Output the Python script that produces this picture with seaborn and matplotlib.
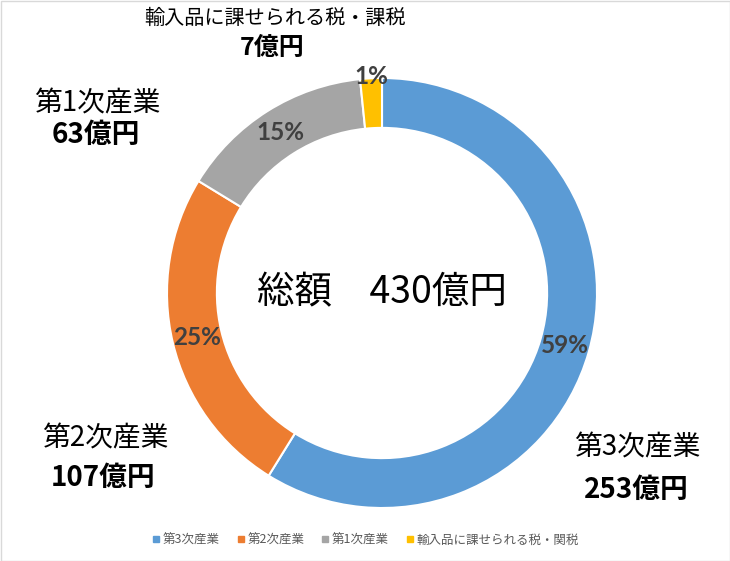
import numpy as np
import matplotlib
matplotlib.use("Agg")
import matplotlib.pyplot as plt
from matplotlib.lines import Line2D
from matplotlib.patches import Rectangle
import seaborn as sns

# ---- data ----
categories = ["第3次産業", "第2次産業", "第1次産業", "輸入品に課せられる税・関税"]
values = [253, 107, 63, 7]
pct_labels = ["59%", "25%", "15%", "1%"]
outer_names = ["第3次産業", "第2次産業", "第1次産業", "輸入品に課せられる税・課税"]
outer_amounts = ["253億円", "107億円", "63億円", "7億円"]
total_label = "総額　430億円"
colors = ["#5B9BD5", "#ED7D31", "#A5A5A5", "#FFC000"]

sns.set_theme(style="white")
plt.rcParams["font.family"] = ["Noto Sans CJK JP", "DejaVu Sans"]

W, H = 730, 561
fig = plt.figure(figsize=(W / 100, H / 100), dpi=100)
fig.patch.set_facecolor("white")

cx, cy, r = 382, 293, 215
ax = fig.add_axes([(cx - r) / W, (H - cy - r) / H, 2 * r / W, 2 * r / H])

pct_iter = iter(pct_labels)
wedges, texts, autotexts = ax.pie(
    values, colors=colors, startangle=90, counterclock=False, radius=1,
    autopct=lambda p: next(pct_iter), pctdistance=0.885,
    wedgeprops=dict(width=0.232, edgecolor="white", linewidth=1.5),
    textprops=dict(color="#404040", fontsize=17.5, fontweight="bold",
                   family=["Lato", "DejaVu Sans"]),
)
ax.set_xlim(-1, 1)
ax.set_ylim(-1, 1)
ax.set_aspect("equal")
ax.axis("off")

# smallest slice label sits on the outer edge
w = wedges[3]
mid = np.deg2rad((w.theta1 + w.theta2) / 2)
autotexts[3].set_position((1.01 * np.cos(mid), 1.01 * np.sin(mid)))

# centre text
ax.text(0, 0, total_label, ha="center", va="center", fontsize=27, color="black")

# outside category labels (figure pixel positions)
name_pos = [(637, 447), (105, 438), (97, 103), (275, 18)]
amt_pos = [(636, 490), (103, 478), (96, 135), (272, 48)]
name_size = [20, 20, 20, 14.5]
amt_size = [20, 20, 20, 18]
for n, a, (nx, ny), (axx, ayy), ns, asz in zip(outer_names, outer_amounts, name_pos,
                                                amt_pos, name_size, amt_size):
    fig.text(nx / W, 1 - ny / H, n, ha="center", va="center", fontsize=ns, color="black")
    fig.text(axx / W, 1 - ayy / H, a, ha="center", va="center", fontsize=asz,
             fontweight="bold", color="black")

# legend
handles = [Line2D([0], [0], marker="s", linestyle="none", markersize=5,
                  markerfacecolor=c, markeredgecolor=c) for c in colors]
leg = fig.legend(handles, categories, loc="center", bbox_to_anchor=(0.5, 1 - 540 / H),
                 ncol=4, frameon=False, fontsize=9, handletextpad=0.1,
                 columnspacing=1.3, handlelength=0.8)
for t in leg.get_texts():
    t.set_color("#595959")

# figure border
fig.add_artist(Rectangle((0.5 / W, 0.5 / H), 1 - 1 / W, 1 - 1 / H, transform=fig.transFigure,
                         fill=False, edgecolor="#D9D9D9", linewidth=1))

fig.savefig("out.png", dpi=100, facecolor="white")
